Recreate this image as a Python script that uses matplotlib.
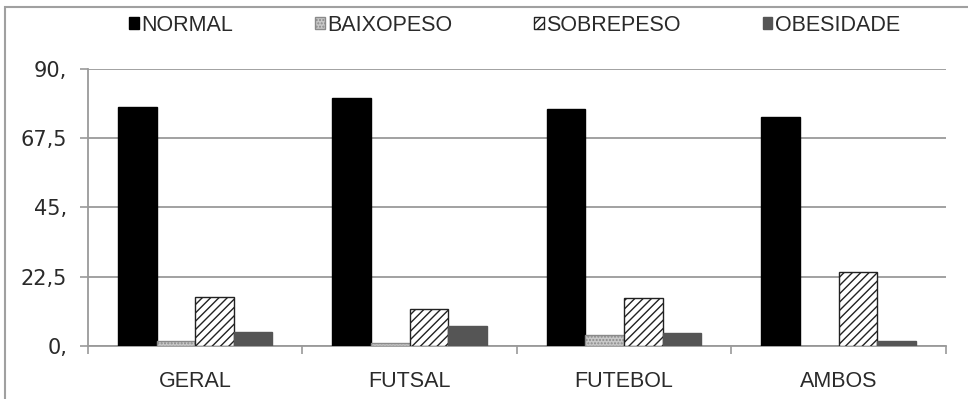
import numpy as np
import matplotlib
matplotlib.use("Agg")
import matplotlib.pyplot as plt
from matplotlib.patches import Rectangle, Patch

# Data (percent)
categories = ["GERAL", "FUTSAL", "FUTEBOL", "AMBOS"]
series_names = ["NORMAL", "BAIXOPESO", "SOBREPESO", "OBESIDADE"]
normal = [77.5, 80.7, 77.1, 74.5]
baixopeso = [1.6, 0.8, 3.5, 0.0]
sobrepeso = [15.9, 11.8, 15.6, 24.0]
obesidade = [4.6, 6.4, 4.0, 1.4]
y_ticks = [0, 22.5, 45, 67.5, 90]
y_tick_labels = ["0,", "22,5", "45,", "67,5", "90,"]

values = [normal, baixopeso, sobrepeso, obesidade]
styles = [
    dict(facecolor="black", edgecolor="black", hatch=None),
    dict(facecolor="#c8c8c8", edgecolor="#8a8a8a", hatch="....."),
    dict(facecolor="white", edgecolor="#222222", hatch="////"),
    dict(facecolor="#555555", edgecolor="#555555", hatch=None),
]

plt.rcParams["hatch.linewidth"] = 1.0

fig = plt.figure(figsize=(9.68, 3.99), dpi=100)
ax = fig.add_axes([0.0909, 0.1336, 0.977 - 0.0909, 0.827 - 0.1336])

x = np.arange(len(categories))
bar_w = 0.18
for i, (vals, st) in enumerate(zip(values, styles)):
    offs = (i - 1.5) * bar_w
    ax.bar(x + offs, vals, width=bar_w, facecolor=st["facecolor"],
           edgecolor=st["edgecolor"], hatch=st["hatch"], linewidth=1.0,
           zorder=3)

ax.set_xlim(-0.5, len(categories) - 0.5)
ax.set_ylim(0, 90)

grid_col = "#9a9a9a"
txt_col = "#2a2a2a"
ax.set_yticks(y_ticks)
ax.set_yticklabels(y_tick_labels, fontsize=15, family="DejaVu Sans", color=txt_col)
ax.yaxis.grid(True, color=grid_col, linewidth=1.3, zorder=0)
ax.tick_params(axis="y", length=6, width=1.2, color=grid_col, pad=9)

ax.set_xticks(x)
ax.set_xticklabels(categories, fontsize=15.5, family="Liberation Sans", color=txt_col)
ax.set_xticks(np.arange(-0.5, len(categories)), minor=True)
ax.tick_params(axis="x", which="major", length=0, pad=18)
ax.tick_params(axis="x", which="minor", length=6, width=1.2, color=grid_col)

for side in ["top", "right"]:
    ax.spines[side].set_visible(False)
for side in ["left", "bottom"]:
    ax.spines[side].set_color(grid_col)
    ax.spines[side].set_linewidth(1.3)

handles = [Patch(facecolor=st["facecolor"], edgecolor=st["edgecolor"], hatch=st["hatch"])
           for st in styles]
leg = fig.legend(handles, series_names, loc="center", bbox_to_anchor=(0.5315, 0.937),
                 ncol=4, frameon=False, handlelength=0.45, handleheight=0.45,
                 handletextpad=0.12, columnspacing=3.8,
                 prop={"family": "Liberation Sans", "size": 15.5})
for t in leg.get_texts():
    t.set_color(txt_col)

# outer frame of the pasted chart (left and top edges visible)
fig.patches.append(Rectangle((5 / 968, -0.1), 1.2, 1.1 - 7 / 399,
                             transform=fig.transFigure, fill=False,
                             edgecolor="#a0a0a0", linewidth=1.5))

fig.savefig("out.png", dpi=100)
